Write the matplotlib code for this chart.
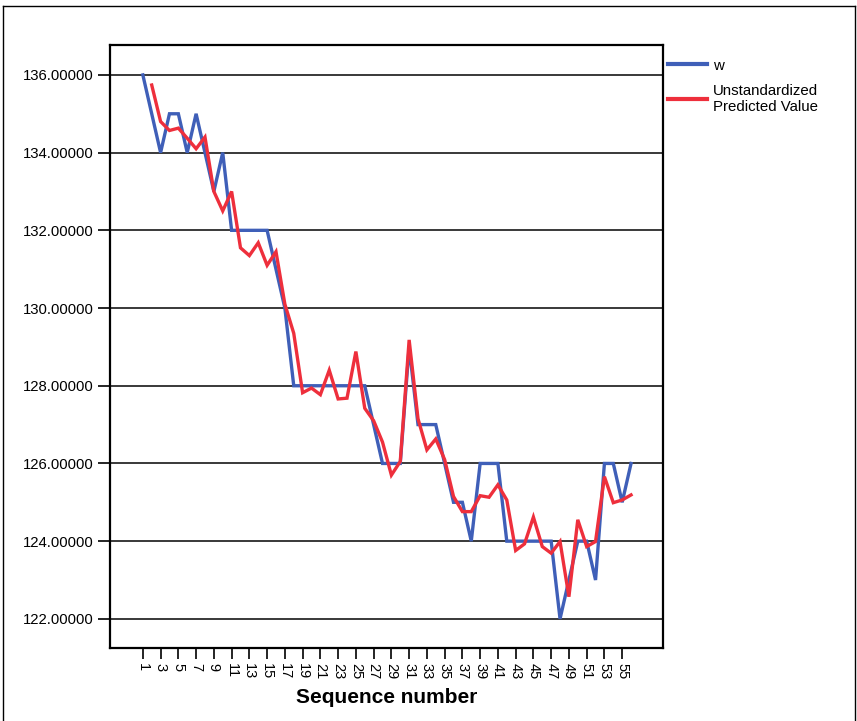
import matplotlib
matplotlib.use("Agg")
import matplotlib.pyplot as plt
from matplotlib.lines import Line2D
from matplotlib.ticker import FixedLocator, FormatStrFormatter

plt.rcParams['font.family'] = ['Liberation Sans', 'DejaVu Sans']

# observed series w, sequence 1..56
w = [136, 135, 134, 135, 135, 134, 135, 134, 133, 134,
     132, 132, 132, 132, 132, 131, 130, 128, 128, 128,
     128, 128, 128, 128, 128, 128, 127, 126, 126, 126,
     129, 127, 127, 127, 126, 125, 125, 124, 126, 126,
     126, 124, 124, 124, 124, 124, 124, 122, 123, 124,
     124, 123, 126, 126, 125, 126]

# regression predictions, available from sequence 2 onwards
pred = [135.74, 134.80, 134.57, 134.63, 134.37, 134.10, 134.40, 133.00, 132.50,
        133.00, 131.55, 131.35, 131.68, 131.10, 131.45, 130.10, 129.35, 127.82,
        127.94, 127.77, 128.40, 127.66, 127.68, 128.88, 127.42, 127.10, 126.55,
        125.70, 126.05, 129.18, 127.15, 126.35, 126.63, 126.10, 125.15, 124.76,
        124.76, 125.17, 125.13, 125.45, 125.06, 123.76, 123.93, 124.62, 123.86,
        123.69, 123.99, 122.57, 124.55, 123.86, 123.99, 125.66, 124.99, 125.06,
        125.19]

seq = list(range(1, len(w) + 1))
seq_pred = seq[1:]

y_ticks = [122, 124, 126, 128, 130, 132, 134, 136]
x_ticks = list(range(1, 56, 2))

blue = '#3f5fb8'
red = '#ee2f3c'

fig = plt.figure(figsize=(8.57, 7.21), dpi=100)
ax = fig.add_axes([110 / 857, 1 - 648 / 721, 553 / 857, 603 / 721])

for y in y_ticks:
    ax.axhline(y, color='#2a2a2a', lw=1.3, zorder=1)

ax.plot(seq, w, color=blue, lw=2.4, zorder=3, solid_joinstyle='miter')
ax.plot(seq_pred, pred, color=red, lw=2.4, zorder=4, solid_joinstyle='miter')

ax.set_xlim(-2.7, 59.6)
ax.set_ylim(121.25, 136.77)

ax.yaxis.set_major_locator(FixedLocator(y_ticks))
ax.yaxis.set_major_formatter(FormatStrFormatter('%.5f'))
ax.xaxis.set_major_locator(FixedLocator(x_ticks))
ax.tick_params(axis='y', direction='out', length=9, width=1.2, labelsize=10.7, pad=3)
ax.tick_params(axis='x', direction='out', length=8, width=1.2, labelsize=10.5, pad=3)
for lbl in ax.get_xticklabels():
    lbl.set_rotation(270)
    lbl.set_va('top')
    lbl.set_ha('center')

for sp in ax.spines.values():
    sp.set_linewidth(1.6)
    sp.set_color('black')

ax.set_xlabel('Sequence number', fontsize=15, fontweight='bold', labelpad=6)

handles = [Line2D([0], [0], color=blue, lw=3),
           Line2D([0], [0], color=red, lw=3)]
fig.legend(handles, ['w', 'Unstandardized\nPredicted Value'],
           loc='upper left', bbox_to_anchor=(663 / 857, 1 - 54 / 721),
           frameon=False, fontsize=10.8, handlelength=2.6, handletextpad=0.45,
           labelspacing=0.75, borderaxespad=0, borderpad=0.3)

# frame around the whole chart
border = dict(color='black', lw=1.0, transform=fig.transFigure)
fig.add_artist(Line2D([3 / 857, 3 / 857], [0, 1 - 6 / 721], **border))
fig.add_artist(Line2D([3 / 857, 855 / 857], [1 - 6 / 721, 1 - 6 / 721], **border))
fig.add_artist(Line2D([855 / 857, 855 / 857], [0, 1 - 6 / 721], **border))

fig.savefig('out.png', dpi=100)
